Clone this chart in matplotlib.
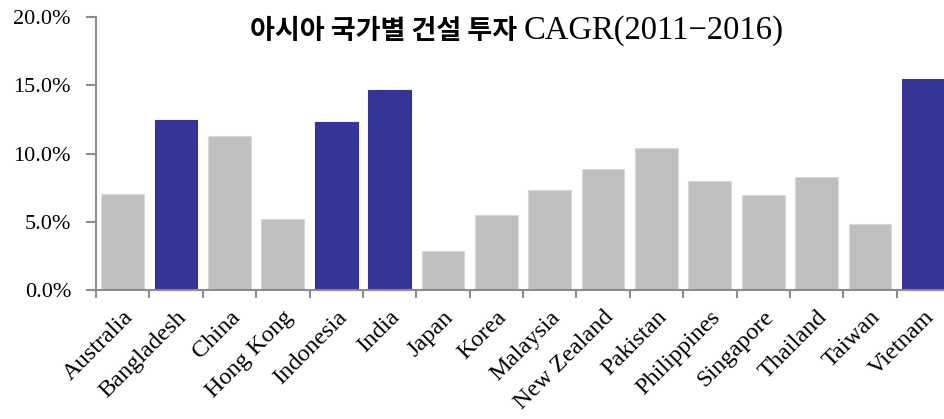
import matplotlib
import numpy as np

matplotlib.use("Agg")
import matplotlib.pyplot as plt
from matplotlib.ticker import FuncFormatter


COUNTRIES = [
    "Australia", "Bangladesh", "China", "Hong Kong", "Indonesia", "India",
    "Japan", "Korea", "Malaysia", "New Zealand", "Pakistan", "Philippines",
    "Singapore", "Thailand", "Taiwan", "Vietnam",
]
CAGR = [7.04, 12.48, 11.28, 5.2, 12.33, 14.68, 2.87, 5.49, 7.31, 8.85,
        10.4, 7.99, 6.96, 8.29, 4.81, 15.49]
HIGHLIGHT = ["Bangladesh", "Indonesia", "India", "Vietnam"]
Y_TICKS = [0, 5, 10, 15, 20]
TITLE_KO = "아시아 국가별 건설 투자 "
TITLE_EN = "CAGR(2011−2016)"

GRAY = "#bfbfbf"
BLUE = "#343597"
AXIS = "#8c8c8c"


def main() -> None:
    fig = plt.figure(figsize=(9.44, 4.19), dpi=100)
    fig.patch.set_facecolor("white")
    ax = fig.add_axes([96 / 944, 1 - 290 / 419, 854 / 944, 273 / 419])

    x = np.arange(len(COUNTRIES))
    colors = [BLUE if c in HIGHLIGHT else GRAY for c in COUNTRIES]
    edges = [BLUE if c in HIGHLIGHT else "#d9d9d9" for c in COUNTRIES]
    ax.bar(x, CAGR, width=0.8, color=colors, edgecolor=edges, linewidth=0.8, zorder=2)

    ax.set_xlim(-0.5, len(COUNTRIES) - 0.5)
    ax.set_ylim(0, 20)
    ax.set_yticks(Y_TICKS)
    ax.yaxis.set_major_formatter(FuncFormatter(lambda v, _: f"{v:.1f}%"))
    ax.set_xticks(x)
    ax.set_xticks(np.arange(-0.5, len(COUNTRIES), 1), minor=True)
    ax.set_xticklabels(COUNTRIES, rotation=45, ha="right", va="top",
                       rotation_mode="anchor",
                       family="Liberation Serif", fontsize=17.5)
    for lab in ax.get_yticklabels():
        lab.set_family("Liberation Serif")
        lab.set_fontsize(16)

    ax.tick_params(axis="x", which="major", length=0, pad=12)
    ax.tick_params(axis="x", which="minor", length=6, width=1.5, color=AXIS)
    ax.tick_params(axis="y", length=7, width=1.5, color=AXIS, pad=11)

    for side in ("top", "right"):
        ax.spines[side].set_visible(False)
    for side in ("left", "bottom"):
        ax.spines[side].set_color(AXIS)
        ax.spines[side].set_linewidth(1.5)

    # title: Korean part in CJK sans, Latin part serif; measure and centre both
    renderer = fig.canvas.get_renderer()
    y_title = 1 - 31 / 419
    ko = fig.text(0, y_title, TITLE_KO, ha="left", va="center",
                  family="Noto Sans CJK KR", fontweight="bold", fontsize=19.5)
    en = fig.text(0, y_title, TITLE_EN, ha="left", va="center",
                  family="Liberation Serif", fontsize=23.5)
    w_ko = ko.get_window_extent(renderer).width / fig.bbox.width
    w_en = en.get_window_extent(renderer).width / fig.bbox.width
    x0 = 517 / 944 - (w_ko + w_en) / 2
    ko.set_x(x0)
    en.set_x(x0 + w_ko)

    fig.savefig("out.png", dpi=100)
    plt.close(fig)


if __name__ == "__main__":
    main()
